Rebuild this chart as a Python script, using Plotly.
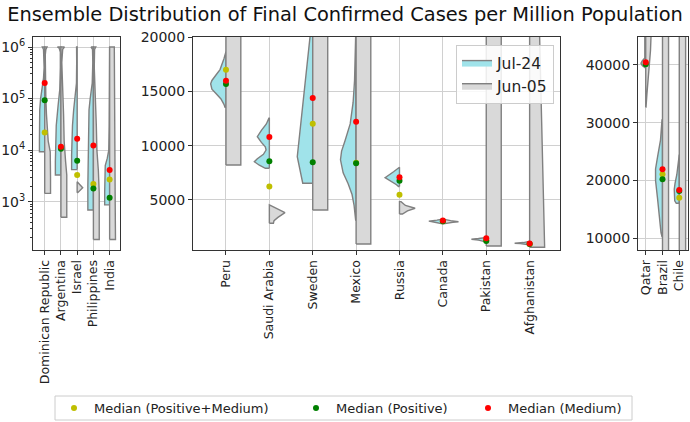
import plotly.graph_objects as go

# ---------------- data ----------------
TITLE = "Ensemble Distribution of Final Confirmed Cases per Million Population"
DATE_A = "Jul-24"
DATE_B = "Jun-05"

countries_1 = ["Dominican Republic", "Argentina", "Israel", "Philippines", "India"]
countries_2 = ["Peru", "Saudi Arabia", "Sweden", "Mexico", "Russia", "Canada", "Pakistan", "Afghanistan"]
countries_3 = ["Qatar", "Brazil", "Chile"]

log_ticks = [1e3, 1e4, 1e5, 1e6]
log_tick_text = ["10<sup>3</sup>", "10<sup>4</sup>", "10<sup>5</sup>", "10<sup>6</sup>"]

median_names = ["Median (Positive+Medium)", "Median (Positive)", "Median (Medium)"]

# medians per panel
med_posmed_1 = [22000, 11200, 3300, 2200, 2700]
med_pos_1 = [93000, 10700, 6200, 1800, 1200]
med_med_1 = [200000, 11700, 16600, 12300, 4100]

med_posmed_2 = [16990, 6230, 12020, 8420, 5490, 3050, 1300, 950]
med_pos_2 = [15670, 8560, 8470, 8380, 6780, 3050, 1230, 950]
med_med_2 = [15980, 10800, 14390, 12210, 7090, 3100, 1480, 1000]

med_posmed_3 = [40300, 21090, 17040]
med_pos_3 = [40120, 20220, 18200]
med_med_3 = [40460, 21950, 18370]

# density profiles: values (cases per million) and relative density
dr_jul_v = [9300, 15000, 30000, 60000, 100000, 150000, 250000, 400000, 700000, 900000, 1000000]
dr_jul_d = [0.9, 0.9, 0.9, 0.85, 0.7, 0.45, 0.2, 0.1, 0.08, 0.2, 0.4]
dr_jun_v = [1450, 3000, 6000, 9300, 15000, 25000, 50000, 100000, 300000, 700000, 900000, 1000000]
dr_jun_d = [1.0, 1.0, 1.0, 0.95, 0.6, 0.45, 0.3, 0.2, 0.12, 0.1, 0.2, 0.4]

ar_jul_v = [3300, 6000, 15000, 30000, 70000, 150000, 400000, 800000, 950000, 1000000]
ar_jul_d = [0.95, 0.95, 0.9, 0.8, 0.5, 0.2, 0.1, 0.1, 0.3, 0.6]
ar_jun_v = [500, 1500, 3300, 6000, 15000, 50000, 150000, 500000, 900000, 1000000]
ar_jun_d = [1.0, 1.0, 1.0, 0.8, 0.55, 0.45, 0.3, 0.15, 0.3, 0.6]

il_jul_v = [4200, 8000, 15000, 30000, 60000, 110000, 200000, 500000, 1000000]
il_jul_d = [0.95, 0.95, 0.9, 0.8, 0.6, 0.3, 0.12, 0.08, 0.1]
il_jun_v = [1500, 1870, 2450]
il_jun_d = [0.1, 0.95, 0.1]

ph_jul_v = [690, 2000, 6000, 20000, 60000, 100000, 200000, 500000, 900000, 1000000]
ph_jul_d = [0.95, 0.95, 0.9, 0.85, 0.75, 0.55, 0.2, 0.1, 0.15, 0.4]
ph_jun_v = [185, 500, 1500, 4000, 10000, 30000, 100000, 400000, 900000, 1000000]
ph_jun_d = [1.0, 1.0, 1.0, 0.85, 0.6, 0.5, 0.35, 0.15, 0.2, 0.4]

in_jul_v = [870, 1500, 3000, 5000, 7000, 10000, 30000, 100000, 400000, 1000000]
in_jul_d = [0.85, 0.85, 0.85, 0.75, 0.4, 0.15, 0.08, 0.06, 0.05, 0.05]
in_jun_v = [185, 1000, 10000, 100000, 1000000]
in_jun_d = [1.0, 0.95, 0.9, 0.85, 0.8]

pe_jul_v = [13530, 13800, 14300, 14800, 15200, 15700, 16000, 16500, 17000, 18000, 18650]
pe_jul_d = [0.06, 0.13, 0.32, 0.64, 0.9, 0.98, 0.9, 0.64, 0.38, 0.13, 0.03]
pe_jun_v = [8220, 60000]
pe_jun_d = [0.95, 0.95]

sa_jul_v = [7920, 8200, 8520, 8800, 9200, 9600, 9900, 10300, 10830, 11400, 12000, 12520]
sa_jul_d = [0.26, 0.64, 0.96, 0.77, 0.38, 0.21, 0.26, 0.51, 0.77, 0.51, 0.19, 0.03]
sa_jun_v = [2860, 3100, 3400, 3830, 4100, 4350, 4540]
sa_jun_d = [0.26, 0.3, 0.55, 1.0, 0.6, 0.25, 0.05]

se_jul_v = [6540, 8990, 20000, 21000]
se_jul_d = [0.64, 0.99, 0.13, 0.1]
se_jun_v = [4080, 60000]
se_jun_d = [0.96, 0.96]

mx_jul_v = [3160, 4500, 5500, 6500, 7500, 8700, 9500, 10500, 12000, 14000, 16000, 20000, 21000]
mx_jul_d = [0.03, 0.13, 0.26, 0.51, 0.83, 1.0, 0.93, 0.7, 0.38, 0.19, 0.1, 0.03, 0.03]
mx_jun_v = [950, 60000]
mx_jun_d = [0.94, 0.94]

ru_jul_v = [6230, 6400, 6700, 7050, 7600, 8010]
ru_jul_d = [0.06, 0.19, 0.51, 0.92, 0.38, 0.06]
ru_jun_v = [3710, 4000, 4240, 4500, 4850]
ru_jun_d = [0.19, 0.51, 1.0, 0.38, 0.1]

ca_jul_v = [2800, 2950, 3050, 3150, 3250]
ca_jul_d = [0.03, 0.51, 0.9, 0.38, 0.03]
ca_jun_v = [2800, 2950, 3000, 3100, 3250]
ca_jun_d = [0.03, 0.64, 1.0, 0.5, 0.03]

pk_jul_v = [1150, 1300, 1380, 1450, 1550]
pk_jul_d = [0.05, 0.5, 0.95, 0.5, 0.05]
pk_jun_v = [770, 60000]
pk_jun_d = [0.96, 0.96]

af_jul_v = [880, 980, 1020, 1080, 1200]
af_jul_d = [0.05, 0.6, 0.96, 0.4, 0.03]
af_jun_v = [650, 20000, 60000]
af_jun_d = [0.96, 0.64, 0.3]

qa_jul_v = [39500, 39900, 40300, 40700, 41200, 45000, 60000]
qa_jul_d = [0.08, 0.58, 0.78, 0.58, 0.15, 0.15, 0.15]
qa_jun_v = [32700, 35000, 37500, 40000, 42500, 45000, 60000]
qa_jun_d = [0.05, 0.2, 0.41, 0.66, 0.79, 0.88, 0.95]

br_jul_v = [10300, 11000, 14000, 17000, 20000, 22000, 24000, 27000, 30500]
br_jul_d = [0.08, 0.25, 0.5, 0.83, 1.15, 1.15, 0.83, 0.33, 0.08]
br_jun_v = [5000, 60000]
br_jun_d = [1.0, 1.0]

cl_jul_v = [16070, 16500, 17500, 18500, 19500, 21000, 23000, 24500]
cl_jul_d = [0.5, 0.75, 0.83, 0.83, 0.7, 0.41, 0.17, 0.05]
cl_jun_v = [5000, 60000]
cl_jun_d = [1.05, 1.05]

jul_1 = [(dr_jul_v, dr_jul_d), (ar_jul_v, ar_jul_d), (il_jul_v, il_jul_d), (ph_jul_v, ph_jul_d), (in_jul_v, in_jul_d)]
jun_1 = [(dr_jun_v, dr_jun_d), (ar_jun_v, ar_jun_d), (il_jun_v, il_jun_d), (ph_jun_v, ph_jun_d), (in_jun_v, in_jun_d)]
jul_2 = [(pe_jul_v, pe_jul_d), (sa_jul_v, sa_jul_d), (se_jul_v, se_jul_d), (mx_jul_v, mx_jul_d),
         (ru_jul_v, ru_jul_d), (ca_jul_v, ca_jul_d), (pk_jul_v, pk_jul_d), (af_jul_v, af_jul_d)]
jun_2 = [(pe_jun_v, pe_jun_d), (sa_jun_v, sa_jun_d), (se_jun_v, se_jun_d), (mx_jun_v, mx_jun_d),
         (ru_jun_v, ru_jun_d), (ca_jun_v, ca_jun_d), (pk_jun_v, pk_jun_d), (af_jun_v, af_jun_d)]
jul_3 = [(qa_jul_v, qa_jul_d), (br_jul_v, br_jul_d), (cl_jul_v, cl_jul_d)]
jun_3 = [(qa_jun_v, qa_jun_d), (br_jun_v, br_jun_d), (cl_jun_v, cl_jun_d)]

# ---------------- style ----------------
FONT = "DejaVu Sans"
MAXW = 0.36
CYAN = "#a0e3ea"
GRAY = "#d9d9d9"
EDGE = "#808080"
C_Y = "#bfbf00"
C_G = "#008000"
C_R = "#ff0000"


def halves(profiles, side):
    xs, ys = [], []
    for i, (v, d) in enumerate(profiles):
        xs += [i] + [i + side * MAXW * w for w in d] + [i, i, None]
        ys += [v[0]] + list(v) + [v[-1], v[0], None]
    return xs, ys


fig = go.Figure()

panels = [
    ("x", "y", countries_1, jul_1, jun_1, med_posmed_1, med_pos_1, med_med_1),
    ("x2", "y2", countries_2, jul_2, jun_2, med_posmed_2, med_pos_2, med_med_2),
    ("x3", "y3", countries_3, jul_3, jun_3, med_posmed_3, med_pos_3, med_med_3),
]

median_legends = ["legend2", "legend3", "legend4"]

for k, (xa, ya, cats, jul, jun, mpm, mp, mm) in enumerate(panels):
    show = (k == 1)
    xs, ys = halves(jul, -1)
    fig.add_trace(go.Scatter(x=xs, y=ys, xaxis=xa, yaxis=ya, mode="lines", fill="toself",
                             fillcolor=CYAN, line=dict(color=EDGE, width=1.4),
                             name=DATE_A, showlegend=show, legend="legend", hoverinfo="skip"))
    xs, ys = halves(jun, 1)
    fig.add_trace(go.Scatter(x=xs, y=ys, xaxis=xa, yaxis=ya, mode="lines", fill="toself",
                             fillcolor=GRAY, line=dict(color=EDGE, width=1.4),
                             name=DATE_B, showlegend=show, legend="legend", hoverinfo="skip"))
    pos = list(range(len(cats)))
    for j, (vals, col) in enumerate([(mpm, C_Y), (mp, C_G), (mm, C_R)]):
        fig.add_trace(go.Scatter(x=pos, y=vals, xaxis=xa, yaxis=ya, mode="markers",
                                 marker=dict(color=col, size=6),
                                 name=median_names[j], showlegend=(k == 0),
                                 legend=median_legends[j]))

axis_common = dict(showline=True, linecolor="#333333", linewidth=1, mirror=True,
                   ticks="outside", ticklen=4, tickcolor="#333333",
                   showgrid=True, gridcolor="#d0d0d0", gridwidth=1, zeroline=False,
                   automargin=False)
xfont = dict(family=FONT, size=12.5, color="#222222")
yfont = dict(family=FONT, size=14, color="#222222")

H = 422.0
W = 690.0
ydom = [1 - 250 / H, 1 - 37 / H]

med_leg_common = dict(orientation="h", xanchor="left", y=1 - 408 / H, yanchor="middle",
                      bgcolor="rgba(0,0,0,0)", borderwidth=0,
                      font=dict(family=FONT, size=13, color="#222222"))

fig.update_layout(
    width=690, height=422, margin=dict(l=0, r=0, t=0, b=0, autoexpand=False),
    paper_bgcolor="white", plot_bgcolor="white",
    font=dict(family=FONT, size=13, color="#222222"),
    title=dict(text=TITLE, x=0.5, xanchor="center", y=1 - 14 / H, yanchor="middle",
               font=dict(family=FONT, size=19.4, color="#111111")),
    xaxis=dict(domain=[33 / W, 119.7 / W], range=[-0.72, 4.62], tickmode="array",
               tickvals=list(range(len(countries_1))), ticktext=countries_1, tickangle=-90,
               anchor="y", tickfont=xfont, **axis_common),
    yaxis=dict(domain=ydom, type="log", range=[2.064, 6.194], tickmode="array",
               tickvals=log_ticks, ticktext=log_tick_text, anchor="x", tickfont=yfont,
               minor=dict(ticks="outside", ticklen=2, tickcolor="#333333", dtick="D1", showgrid=False),
               **axis_common),
    xaxis2=dict(domain=[193 / W, 560 / W], range=[-0.76, 7.70], tickmode="array",
                tickvals=list(range(len(countries_2))), ticktext=countries_2, tickangle=-90,
                anchor="y2", tickfont=xfont, **axis_common),
    yaxis2=dict(domain=ydom, range=[396, 20000], tickvals=[5000, 10000, 15000, 20000],
                tickformat="d", anchor="x2", tickfont=yfont, **axis_common),
    xaxis3=dict(domain=[638 / W, 688 / W], range=[-0.46, 2.52], tickmode="array",
                tickvals=list(range(len(countries_3))), ticktext=countries_3, tickangle=-90,
                anchor="y3", tickfont=xfont, **axis_common),
    yaxis3=dict(domain=ydom, range=[7975, 44846], tickvals=[10000, 20000, 30000, 40000],
                tickformat="d", anchor="x3", tickfont=yfont, **axis_common),
    legend=dict(x=554 / W, xanchor="right", y=1 - 45 / H, yanchor="top",
                bgcolor="rgba(255,255,255,0.85)", bordercolor="#cccccc", borderwidth=1,
                font=dict(family=FONT, size=15.5, color="#222222"), traceorder="normal"),
    legend2=dict(x=54 / W, **med_leg_common),
    legend3=dict(x=296 / W, **med_leg_common),
    legend4=dict(x=468 / W, **med_leg_common),
    shapes=[dict(type="rect", xref="paper", yref="paper",
                 x0=55 / W, x1=632 / W, y0=1 - 420 / H, y1=1 - 396 / H,
                 line=dict(color="#cccccc", width=1), fillcolor="rgba(0,0,0,0)", layer="below")],
)

fig.write_html("out.html", config={"displayModeBar": False},
               post_script="document.body.style.margin='0px';")
